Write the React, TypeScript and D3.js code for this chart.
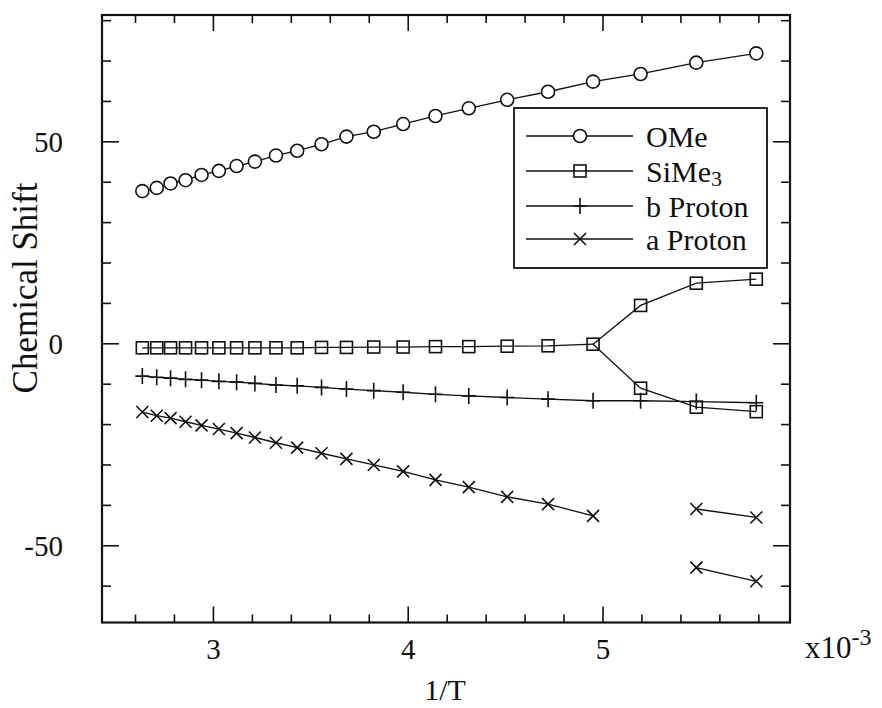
import React from "react";
import * as d3 from "d3";

// 1/T values (x10^-3 K^-1) shared by every series
const invT = [
  2.635, 2.709, 2.78, 2.857, 2.939, 3.028, 3.119, 3.213, 3.321, 3.43, 3.555,
  3.683, 3.823, 3.974, 4.14, 4.311, 4.508, 4.718, 4.949, 5.193, 5.479, 5.787,
];

const omeShift = [
  37.8, 38.6, 39.7, 40.5, 41.8, 42.8, 44.0, 45.1, 46.6, 47.8, 49.4, 51.3, 52.5,
  54.4, 56.4, 58.3, 60.4, 62.4, 64.9, 66.8, 69.6, 71.9,
];

// SiMe3: single signal down to 4.949, then it splits in two
const simeShift = [
  -1.0, -1.0, -1.0, -1.0, -1.0, -1.0, -1.0, -1.0, -1.0, -1.0, -0.9, -0.9, -0.8,
  -0.8, -0.7, -0.7, -0.6, -0.5, -0.1,
];
const simeUpper = [9.5, 15.0, 16.0];
const simeLower = [-11.0, -15.7, -16.8];

const bProtonShift = [
  -8.0, -8.3, -8.5, -8.8, -9.0, -9.3, -9.5, -9.8, -10.2, -10.4, -10.8, -11.2,
  -11.6, -12.0, -12.5, -12.9, -13.3, -13.7, -14.1, -14.1, -14.3, -14.6,
];

// a Proton: no reading at 5.193, two signals below that
const aProtonShift = [
  -16.9, -17.8, -18.4, -19.3, -20.2, -21.1, -22.1, -23.2, -24.5, -25.7, -27.1,
  -28.5, -30.0, -31.6, -33.7, -35.5, -37.9, -39.7, -42.6,
];
const aProtonUpper = [-40.9, -43.0];
const aProtonLower = [-55.4, -58.8];

const xMajorTicks = [3, 4, 5];
const xMinorTicks = [2.6, 2.8, 3.2, 3.4, 3.6, 3.8, 4.2, 4.4, 4.6, 4.8, 5.2, 5.4, 5.6, 5.8];
const yMajorTicks = [-50, 0, 50];
const yMinorTicks = [-60, -40, -30, -20, -10, 10, 20, 30, 40, 60, 70, 80];

const legendItems = [
  { key: "ome", label: "OMe" },
  { key: "sime", label: "SiMe", sub: "3" },
  { key: "plus", label: "b Proton" },
  { key: "cross", label: "a Proton" },
];

const W = 882;
const H = 708;
const plot = { left: 102, right: 790, top: 15, bottom: 622.5 };
const ink = "#111";
const serif = { fontFamily: "'Liberation Serif', 'Times New Roman', Times, serif" };

type Pt = [number, number];

function Marker({ kind, x, y }: { kind: string; x: number; y: number }) {
  if (kind === "ome")
    return <circle cx={x} cy={y} r={6.5} fill="#fff" stroke={ink} strokeWidth={1.6} />;
  if (kind === "sime")
    return <rect x={x - 6} y={y - 6} width={12} height={12} fill="none" stroke={ink} strokeWidth={1.6} />;
  if (kind === "plus")
    return (
      <path d={`M${x - 7},${y}H${x + 7}M${x},${y - 8}V${y + 8}`} stroke={ink} strokeWidth={1.6} />
    );
  return (
    <path
      d={`M${x - 6},${y - 6}L${x + 6},${y + 6}M${x - 6},${y + 6}L${x + 6},${y - 6}`}
      stroke={ink}
      strokeWidth={1.6}
    />
  );
}

export default function App() {
  const x = d3.scaleLinear().domain([2.428, 5.96]).range([plot.left, plot.right]);
  const y = d3.scaleLinear().domain([-69, 81.4]).range([plot.bottom, plot.top]);
  const line = d3
    .line<Pt>()
    .x((d) => x(d[0]))
    .y((d) => y(d[1]));

  const zip = (xs: number[], ys: number[]): Pt[] => ys.map((v, i) => [xs[i], v]);

  const omePts = zip(invT, omeShift);
  const simeMain = zip(invT, simeShift);
  const split = simeMain[simeMain.length - 1];
  const simeUp: Pt[] = [split, ...zip(invT.slice(19), simeUpper)];
  const simeLo: Pt[] = [split, ...zip(invT.slice(19), simeLower)];
  const bPts = zip(invT, bProtonShift);
  const aPts = zip(invT, aProtonShift);
  const aUp = zip(invT.slice(20), aProtonUpper);
  const aLo = zip(invT.slice(20), aProtonLower);

  const series: { kind: string; paths: Pt[][]; marks: Pt[] }[] = [
    { kind: "ome", paths: [omePts], marks: omePts },
    {
      kind: "sime",
      paths: [simeMain, simeUp, simeLo],
      marks: [...simeMain, ...simeUp.slice(1), ...simeLo.slice(1)],
    },
    { kind: "plus", paths: [bPts], marks: bPts },
    { kind: "cross", paths: [aPts, aUp, aLo], marks: [...aPts, ...aUp, ...aLo] },
  ];

  const lx = { box: 514, boxR: 767, top: 108, bottom: 268 };
  const rowY = [136, 171, 206, 239];

  return (
    <svg
      width={W}
      height={H}
      style={{ position: "absolute", left: 0, top: 0, background: "#fff" }}
    >
      <rect width={W} height={H} fill="#fff" />

      {/* ticks on all four sides, pointing inward */}
      <g stroke={ink} strokeWidth={1.6}>
        {xMajorTicks.map((t) => (
          <g key={"xM" + t}>
            <line x1={x(t)} x2={x(t)} y1={plot.bottom} y2={plot.bottom - 16} />
            <line x1={x(t)} x2={x(t)} y1={plot.top} y2={plot.top + 16} />
          </g>
        ))}
        {xMinorTicks.map((t) => (
          <g key={"xm" + t}>
            <line x1={x(t)} x2={x(t)} y1={plot.bottom} y2={plot.bottom - 8} />
            <line x1={x(t)} x2={x(t)} y1={plot.top} y2={plot.top + 8} />
          </g>
        ))}
        {yMajorTicks.map((t) => (
          <g key={"yM" + t}>
            <line x1={plot.left} x2={plot.left + 17} y1={y(t)} y2={y(t)} />
            <line x1={plot.right} x2={plot.right - 17} y1={y(t)} y2={y(t)} />
          </g>
        ))}
        {yMinorTicks.map((t) => (
          <g key={"ym" + t}>
            <line x1={plot.left} x2={plot.left + 9} y1={y(t)} y2={y(t)} />
            <line x1={plot.right} x2={plot.right - 9} y1={y(t)} y2={y(t)} />
          </g>
        ))}
      </g>

      <rect
        x={plot.left}
        y={plot.top}
        width={plot.right - plot.left}
        height={plot.bottom - plot.top}
        fill="none"
        stroke={ink}
        strokeWidth={2.2}
      />

      {/* tick labels */}
      <g fontSize={29} fill={ink} style={serif}>
        {xMajorTicks.map((t) => (
          <text key={"xl" + t} x={x(t)} y={659} textAnchor="middle" style={serif}>
            {t}
          </text>
        ))}
        <text x={805} y={658} style={serif} fontSize={31}>
          x10
          <tspan fontSize={24} dy={-13}>
            -3
          </tspan>
        </text>
        {yMajorTicks.map((t) => (
          <text
            key={"yl" + t}
            x={63}
            y={y(t)}
            textAnchor="end"
            dominantBaseline="central"
            style={serif}
          >
            {t}
          </text>
        ))}
      </g>

      {/* axis titles */}
      <text x={445} y={700} textAnchor="middle" fontSize={30} fill={ink} style={serif}>
        1/T
      </text>
      <text
        transform={`translate(25,${288}) rotate(-90)`}
        textAnchor="middle"
        dominantBaseline="central"
        fontSize={35}
        fill={ink}
        style={serif}
      >
        Chemical Shift
      </text>

      {/* data */}
      {series.map((s) => (
        <g key={s.kind}>
          {s.paths.map((p, i) => (
            <path key={i} d={line(p) ?? ""} fill="none" stroke={ink} strokeWidth={1.3} />
          ))}
          {s.marks.map((d, i) => (
            <Marker key={i} kind={s.kind} x={x(d[0])} y={y(d[1])} />
          ))}
        </g>
      ))}

      {/* legend */}
      <rect
        x={lx.box}
        y={lx.top}
        width={lx.boxR - lx.box}
        height={lx.bottom - lx.top}
        fill="#fff"
        stroke={ink}
        strokeWidth={1.8}
      />
      {legendItems.map((item, i) => (
        <g key={item.key}>
          <line x1={526} x2={633} y1={rowY[i]} y2={rowY[i]} stroke={ink} strokeWidth={1.3} />
          <Marker kind={item.key} x={580} y={rowY[i]} />
          <text
            x={646}
            y={rowY[i]}
            dominantBaseline="central"
            fontSize={30}
            fill={ink}
            style={serif}
          >
            {item.label}
            {item.sub ? (
              <tspan fontSize={22} dy={7}>
                {item.sub}
              </tspan>
            ) : null}
          </text>
        </g>
      ))}
    </svg>
  );
}
